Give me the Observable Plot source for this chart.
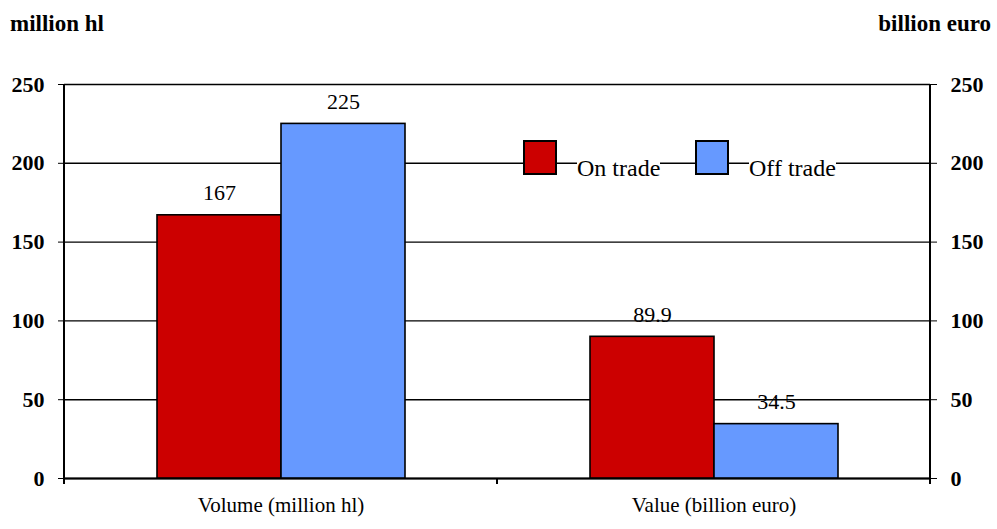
<!DOCTYPE html>
<html><head><meta charset="utf-8">
<script src="https://cdn.jsdelivr.net/npm/d3@7"></script>
<script src="https://cdn.jsdelivr.net/npm/@observablehq/plot@0.6"></script>
<style>
body{margin:0;background:#fff;}
#wrap{position:relative;width:997px;height:529px;font-family:'Liberation Serif',serif;color:#000;}
#wrap svg{position:absolute;left:0;top:0;}
.ttl{position:absolute;top:12px;font-family:'Liberation Serif',serif;font-weight:bold;font-size:23px;line-height:24px;white-space:nowrap;}
.sw{position:absolute;top:140px;width:34px;height:35px;box-sizing:border-box;border:2px solid #000;}
.lt{position:absolute;top:156px;font-family:'Liberation Serif',serif;font-size:24px;line-height:24px;background:#fff;white-space:nowrap;}
</style></head><body><div id="wrap"></div>
<script>
const categories = ["Volume (million hl)", "Value (billion euro)"];
const series = ["On trade", "Off trade"];
const onTrade = [167, 89.9];
const offTrade = [225, 34.5];
const colors = ["#CC0000", "#6699FF"];
const yTicks = [0, 50, 100, 150, 200, 250];
const axisTitles = ["million hl", "billion euro"];

const data = categories.flatMap((c, i) => [
  {cat: c, s: series[0], v: onTrade[i]},
  {cat: c, s: series[1], v: offTrade[i]}
]);

const font = "'Liberation Serif', serif";
const chart = Plot.plot({
  width: 997, height: 529,
  marginTop: 84, marginBottom: 51, marginLeft: 63, marginRight: 67,
  style: {fontFamily: font, fontSize: "21px", color: "black", background: "white", overflow: "visible"},
  fx: {domain: categories, padding: 0, label: null},
  x: {domain: series, paddingInner: 0, paddingOuter: 0.734, axis: null},
  y: {domain: [0, 250], label: null},
  color: {domain: series, range: colors},
  marks: [
    Plot.ruleY(yTicks, {stroke: "black", strokeWidth: 1.4}),
    Plot.ruleY([0], {stroke: "black", strokeWidth: 2}),
    Plot.barY(data, {fx: "cat", x: "s", y: "v", fill: "s", stroke: "black", strokeWidth: 1.6}),
    Plot.text(data, {fx: "cat", x: "s", y: "v", text: d => String(d.v), lineAnchor: "bottom", dy: -15,
      fontSize: 22, fill: "black", className: "vlab"}),
    Plot.axisY({anchor: "left", ticks: yTicks, tickSize: 6, tickPadding: 14, fontWeight: "bold", fontSize: 22, label: null, tickFormat: d => String(d)}),
    Plot.axisY({anchor: "right", ticks: yTicks, tickSize: 6, tickPadding: 14, fontWeight: "bold", fontSize: 22, label: null, tickFormat: d => String(d)}),
    Plot.axisFx({anchor: "bottom", tickSize: 0, tickPadding: 19, fontSize: 21, label: null})
  ]
});

const wrap = document.getElementById("wrap");
wrap.appendChild(chart);

const svg = d3.select(chart);
svg.selectAll("g").attr("font-variant", null);
svg.selectAll("text").attr("font-family", font).style("font-family", font).style("font-variant", "normal");
svg.selectAll("g.vlab text").each(function() {
  const b = this.getBBox();
  const g = this.parentNode;
  const r = document.createElementNS("http://www.w3.org/2000/svg", "rect");
  r.setAttribute("x", b.x - 3); r.setAttribute("y", b.y - 3);
  r.setAttribute("width", b.width + 6); r.setAttribute("height", b.height + 4);
  r.setAttribute("fill", "white");
  g.insertBefore(r, this);
});
const fx = chart.scale("fx"), y = chart.scale("y");
const edges = [fx.apply(categories[0]), fx.apply(categories[1]), fx.apply(categories[1]) + fx.bandwidth];
const y0 = y.apply(0), yTop = y.apply(250);
const ax = svg.append("g").attr("stroke", "black").attr("stroke-width", 2);
edges.forEach((x, i) => {
  const top = (i === 1) ? y0 : yTop;
  ax.append("line").attr("x1", x).attr("x2", x).attr("y1", top).attr("y2", y0 + 6);
});

const t1 = document.createElement("div"); t1.className = "ttl"; t1.style.left = "10px"; t1.textContent = axisTitles[0];
const t2 = document.createElement("div"); t2.className = "ttl"; t2.style.right = "6px"; t2.textContent = axisTitles[1];
wrap.appendChild(t1); wrap.appendChild(t2);

const legX = [523, 695];
series.forEach((s, i) => {
  const sw = document.createElement("div"); sw.className = "sw";
  sw.style.left = legX[i] + "px"; sw.style.background = colors[i];
  const lt = document.createElement("div"); lt.className = "lt";
  lt.style.left = (legX[i] + 54) + "px"; lt.textContent = s;
  wrap.appendChild(sw); wrap.appendChild(lt);
});
</script></body></html>
